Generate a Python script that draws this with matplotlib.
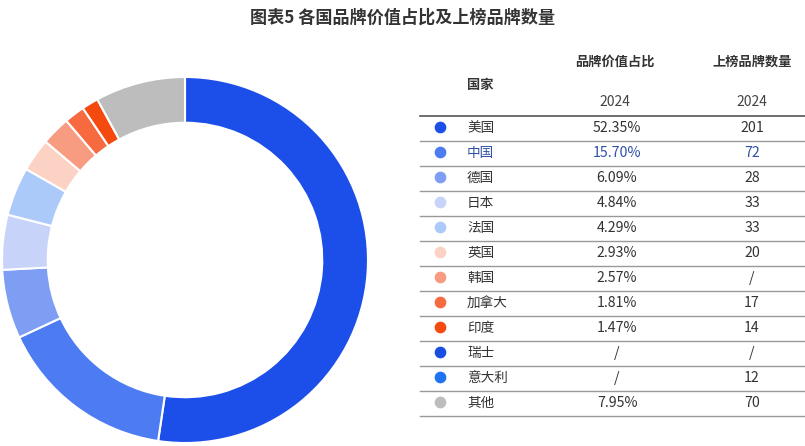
import matplotlib.pyplot as plt

plt.rcParams['font.family'] = ['Noto Sans CJK SC', 'DejaVu Sans']

title = '图表5 各国品牌价值占比及上榜品牌数量'
countries = ['美国', '中国', '德国', '日本', '法国', '英国', '韩国', '加拿大', '印度', '瑞士', '意大利', '其他']
share_pct = [52.35, 15.70, 6.09, 4.84, 4.29, 2.93, 2.57, 1.81, 1.47, None, None, 7.95]
brand_count = ['201', '72', '28', '33', '33', '20', '/', '17', '14', '/', '12', '70']
colors = ['#1c4fe9', '#4d7cf2', '#7e9ef4', '#c8d3fa', '#abc9f9', '#fbd2c4', '#f79c80',
          '#f76a40', '#f44a10', '#1a4ee0', '#1f72f2', '#bdbdbd']

fig = plt.figure(figsize=(8.05, 4.46), dpi=100)

# donut
ax = fig.add_axes([2 / 805, 3 / 446, 366 / 805, 366 / 446])
vals = [v for v in share_pct if v is not None]
cols = [c for v, c in zip(share_pct, colors) if v is not None]
ax.pie(vals, colors=cols, startangle=90, counterclock=False,
       wedgeprops=dict(width=0.25, edgecolor='white', linewidth=1.5))
ax.set_xlim(-1, 1)
ax.set_ylim(-1, 1)
ax.set_aspect('equal')

# table drawn in pixel coordinates
tx = fig.add_axes([0, 0, 1, 1], zorder=-1)
tx.set_xlim(0, 805)
tx.set_ylim(446, 0)
tx.axis('off')

fig.text(0.5, 1 - 18 / 446, title, ha='center', va='center', fontsize=12.3,
         fontweight='bold', color='#333333')

hdr = dict(ha='center', va='center', fontsize=9.5, fontweight='bold', color='#333333')
tx.text(615, 62, '品牌价值占比', **hdr)
tx.text(752, 62, '上榜品牌数量', **hdr)
tx.text(467, 85, '国家', ha='left', va='center', fontsize=9.5, fontweight='bold', color='#333333')
tx.text(615, 102, '2024', ha='center', va='center', fontsize=10, color='#444444')
tx.text(752, 102, '2024', ha='center', va='center', fontsize=10, color='#444444')

tx.plot([420, 805], [116, 116], color='#555555', lw=1.2)
for i, name in enumerate(countries):
    y = 128 + i * 25
    tc = '#2f4fa8' if name == '中国' else '#333333'
    tx.scatter([440], [y - 1], s=55, color=colors[i], zorder=3)
    tx.text(467, y, name, ha='left', va='center', fontsize=9.8, color=tc)
    pct = '/' if share_pct[i] is None else f'{share_pct[i]:.2f}%'
    tx.text(617, y, pct, ha='center', va='center', fontsize=10.2, color=tc)
    tx.text(752, y, brand_count[i], ha='center', va='center', fontsize=10.2, color=tc)
    tx.plot([420, 805], [y + 13, y + 13], color='#999999', lw=1)

fig.savefig('out.png', dpi=100)
